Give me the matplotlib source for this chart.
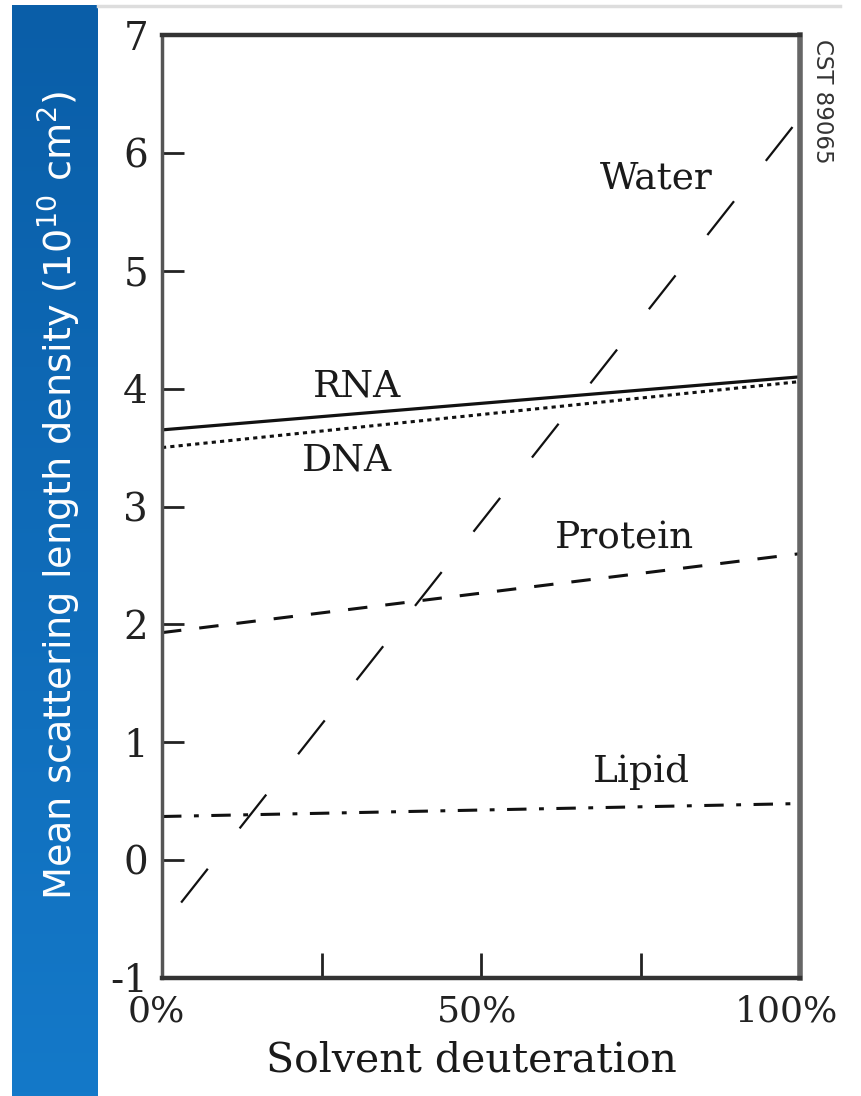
import matplotlib
matplotlib.use("Agg")
import matplotlib.pyplot as plt
import matplotlib.transforms as mtransforms
import numpy as np
from matplotlib.colors import LinearSegmentedColormap

plt.rcParams['lines.scale_dashes'] = False

# ---- data ----
deut_x = [0, 100]
water_x = [3, 100]
water_y = [-0.36, 6.30]
rna_y = [3.65, 4.10]
dna_y = [3.50, 4.06]
protein_y = [1.93, 2.60]
lipid_y = [0.37, 0.48]
yticks = [-1, 0, 1, 2, 3, 4, 5, 6, 7]
xticks = [0, 25, 50, 75, 100]
xticklabels = ['0%', '', '50%', '', '100%']

serif = 'DejaVu Serif'

W, H = 861, 1096
fig = plt.figure(figsize=(W / 100, H / 100), dpi=100)

# blue band
band = fig.add_axes([12 / W, 0, 86 / W, 1 - 5 / H])
grad = np.linspace(0, 1, 256).reshape(-1, 1)
cmap = LinearSegmentedColormap.from_list('b', ['#0a5ea8', '#1479c9'])
band.imshow(grad, aspect='auto', cmap=cmap, extent=[0, 1, 0, 1])
band.axis('off')

# top light line
fig.add_artist(plt.Line2D([98 / W, 840 / W], [1 - 6 / H, 1 - 6 / H],
                          color='#dddddd', lw=2.5, transform=fig.transFigure))

ax = fig.add_axes([162 / W, 1 - 978 / H, 638 / W, 943 / H])
ax.set_xlim(0, 100)
ax.set_ylim(-1, 7)

ax.plot(water_x, water_y, color='#111111', lw=1.6, dashes=(31, 37), solid_capstyle='butt')
ax.plot(deut_x, rna_y, color='#111111', lw=2.3, solid_capstyle='butt')
ax.plot(deut_x, dna_y, color='#111111', lw=2.2, dashes=(3, 3))
ax.plot(deut_x, protein_y, color='#111111', lw=2.2, dashes=(14, 13))
ax.plot(deut_x, lipid_y, color='#111111', lw=2.2, dashes=(14, 9, 3.5, 9))

tf = dict(family=serif, fontsize=27, color='#1a1a1a', ha='center', va='center')
ax.text(77.5, 5.78, 'Water', **tf)
ax.text(30.5, 4.02, 'RNA', **tf)
ax.text(29.0, 3.39, 'DNA', **tf)
ax.text(72.5, 2.73, 'Protein', **tf)
ax.text(75.2, 0.75, 'Lipid', **tf)

ax.set_yticks(yticks)
ax.set_yticklabels([str(v) for v in yticks], family=serif, fontsize=28, color='#222222')
ax.set_xticks(xticks)
ax.set_xticklabels(xticklabels, family=serif, fontsize=26, color='#222222')
ax.tick_params(axis='y', direction='in', length=16, width=2, color='#222222', pad=10)
ax.tick_params(axis='x', direction='in', length=18, width=2, color='#222222', pad=12)
ax.set_xlabel('Solvent deuteration', family=serif, fontsize=29.5, color='#1a1a1a')
ax.xaxis.set_label_coords((471 - 162) / 638, -0.066)

shifts = {0: -6, 2: -4, 4: -14}
for i, lab in enumerate(ax.get_xticklabels()):
    if i in shifts:
        lab.set_transform(lab.get_transform() +
                          mtransforms.ScaledTranslation(shifts[i] / 100, 0, fig.dpi_scale_trans))

for s in ['top', 'bottom']:
    ax.spines[s].set_linewidth(3.2)
    ax.spines[s].set_color('#333333')
ax.spines['left'].set_linewidth(2.5)
ax.spines['left'].set_color('#555555')
ax.spines['right'].set_linewidth(4)
ax.spines['right'].set_color('#666666')

fig.text(59 / W, 1 - 495 / H, 'Mean scattering length density (10$^{10}$ cm$^{2}$)',
         rotation=90, color='white', fontsize=27.5, family='DejaVu Sans',
         ha='center', va='center')
fig.text(822 / W, 1 - 101 / H, 'CST 89065', rotation=-90, color='#333333',
         fontsize=16.5, family='DejaVu Sans', ha='center', va='center')

fig.savefig('out.png', dpi=100)
